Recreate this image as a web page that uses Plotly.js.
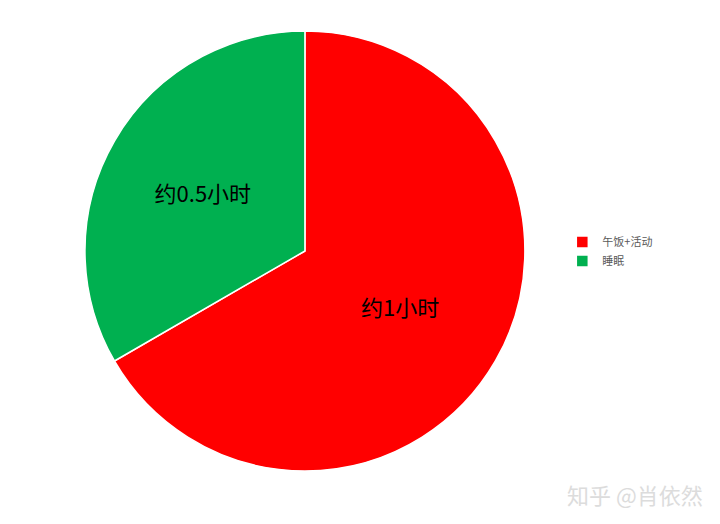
<!DOCTYPE html>
<html><head><meta charset="utf-8">
<script src="https://cdn.plot.ly/plotly-3.0.1.min.js"></script>
<style>html,body{margin:0;padding:0;background:#fff}#c{width:720px;height:524px}</style>
</head><body><div id="c"></div>
<script>
const categories = ["午饭+活动", "睡眠"];
const values = [1, 0.5];
const sliceLabels = ["约1小时", "约0.5小时"];
const colors = ["#ff0000", "#00b050"];

Plotly.newPlot("c", [{
  type: "pie",
  labels: categories,
  values: values,
  text: sliceLabels,
  textinfo: "text",
  textposition: "inside",
  insidetextorientation: "horizontal",
  textfont: {family: "Noto Sans CJK SC, Liberation Sans, sans-serif", size: 22, color: "#000"},
  marker: {colors: colors, line: {color: "#ffffff", width: 1.5}},
  sort: false,
  direction: "clockwise",
  rotation: 0,
  hoverinfo: "none",
  domain: {x: [0.118, 0.729], y: [0.101, 0.941]}
}], {
  width: 720, height: 524,
  margin: {l: 0, r: 0, t: 0, b: 0},
  paper_bgcolor: "#fff",
  showlegend: true,
  legend: {x: 0.781, y: 0.52, xanchor: "left", yanchor: "middle",
    font: {family: "Noto Sans CJK SC, sans-serif", size: 11, color: "#595959"},
    itemwidth: 30, tracegroupgap: 0},
  annotations: [{
    text: "知乎 @肖依然", xref: "paper", yref: "paper", x: 0.882, y: 0.057,
    xanchor: "center", yanchor: "middle", showarrow: false,
    font: {family: "Noto Sans CJK SC, sans-serif", size: 22, color: "#dcdcdc"}
  }]
}, {staticPlot: true});
</script></body></html>
